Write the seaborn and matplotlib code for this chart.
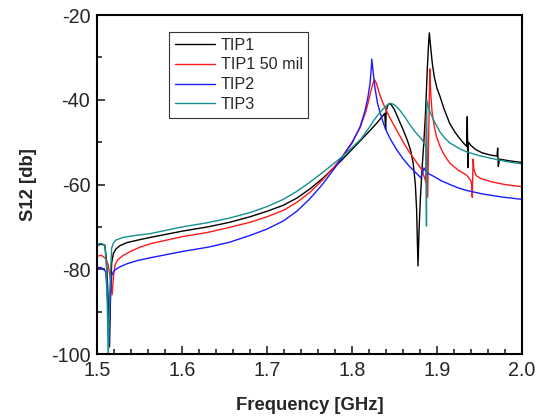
import numpy as np
import pandas as pd
import seaborn as sns
import matplotlib.pyplot as plt
from matplotlib.ticker import MultipleLocator

# S12 curves (frequency in GHz, S12 in dB)
tip1_f = [1.500, 1.505, 1.509, 1.511, 1.5135, 1.5145, 1.5155, 1.517, 1.519, 1.522,
          1.527, 1.535, 1.548, 1.562, 1.600, 1.630, 1.656, 1.680, 1.700, 1.719,
          1.735, 1.7506, 1.765, 1.780, 1.789, 1.800, 1.810, 1.820, 1.830, 1.8385,
          1.8395, 1.8402, 1.842, 1.8435, 1.846, 1.850, 1.855, 1.860, 1.865, 1.869,
          1.872, 1.8745, 1.876, 1.8776, 1.879, 1.8805, 1.8825, 1.8845, 1.8865, 1.8885,
          1.8900, 1.8910, 1.8925, 1.8945, 1.897, 1.900, 1.9035, 1.908, 1.915, 1.921,
          1.927, 1.9325, 1.9349, 1.9356, 1.9363, 1.9370, 1.940, 1.946, 1.953, 1.962,
          1.9706, 1.9714, 1.9722, 1.9735, 1.985, 2.000]
tip1_db = [-74.3, -74.1, -74.3, -78.0, -90.0, -98.3, -88.0, -78.5, -76.3, -75.2,
           -74.4, -73.7, -73.1, -72.5, -71.0, -70.0, -68.9, -67.6, -66.3, -64.9,
           -63.2, -61.0, -58.6, -55.8, -54.0, -51.7, -49.6, -47.5, -45.3, -43.2,
           -47.0, -42.5, -41.3, -40.9, -41.1, -42.4, -44.7, -47.0, -49.5, -52.0,
           -55.0, -60.0, -66.0, -79.2, -70.0, -63.0, -56.0, -50.0, -43.0, -33.0,
           -27.0, -24.2, -27.5, -31.5, -34.8, -37.3, -39.2, -42.0, -45.6, -47.6,
           -49.2, -50.5, -51.0, -44.0, -56.0, -50.0, -50.8, -51.8, -52.5, -53.0,
           -53.3, -51.4, -55.7, -54.0, -54.4, -54.8]

tip1_50_f = [1.500, 1.505, 1.510, 1.513, 1.516, 1.5176, 1.519, 1.521, 1.524, 1.530,
             1.540, 1.550, 1.562, 1.600, 1.630, 1.656, 1.680, 1.700, 1.719, 1.735,
             1.7506, 1.765, 1.780, 1.789, 1.800, 1.8094, 1.8165, 1.820, 1.8224, 1.8245,
             1.8265, 1.8285, 1.832, 1.836, 1.840, 1.846, 1.8514, 1.857, 1.862, 1.867,
             1.875, 1.882, 1.8855, 1.8868, 1.8873, 1.8890, 1.8915, 1.8925, 1.894, 1.8965,
             1.8995, 1.9035, 1.909, 1.9153, 1.925, 1.935, 1.9395, 1.9410, 1.9415, 1.9425,
             1.9435, 1.946, 1.952, 1.965, 1.980, 2.000]
tip1_50_db = [-76.9, -76.7, -77.5, -79.0, -83.0, -86.0, -82.0, -79.0, -77.8, -76.8,
              -75.7, -74.8, -74.0, -72.3, -71.3, -70.1, -68.9, -67.6, -66.1, -64.2,
              -61.8, -59.0, -55.6, -53.2, -50.0, -46.6, -42.6, -39.8, -37.8, -36.2,
              -35.3, -36.0, -38.4, -40.6, -42.4, -44.8, -46.8, -48.8, -50.6, -52.2,
              -54.5, -56.5, -58.5, -59.5, -43.5, -63.0, -32.7, -38.0, -42.5, -46.0,
              -48.8, -51.0, -53.2, -55.0, -56.6, -57.8, -59.0, -60.0, -63.0, -54.0,
              -56.5, -57.9, -58.6, -59.4, -60.0, -60.5]

tip2_f = [1.500, 1.505, 1.510, 1.5125, 1.5137, 1.515, 1.517, 1.519, 1.522, 1.527,
          1.535, 1.548, 1.562, 1.600, 1.630, 1.656, 1.680, 1.700, 1.719, 1.735,
          1.7506, 1.765, 1.780, 1.789, 1.800, 1.8094, 1.815, 1.8185, 1.8212, 1.8225,
          1.8232, 1.8245, 1.8271, 1.830, 1.8329, 1.837, 1.841, 1.846, 1.8526, 1.860,
          1.867, 1.874, 1.8790, 1.8808, 1.8830, 1.8847, 1.8865, 1.8886, 1.8965, 1.905,
          1.9153, 1.925, 1.935, 1.953, 1.975, 2.000]
tip2_db = [-79.6, -79.6, -80.5, -88.0, -98.0, -88.0, -81.5, -80.6, -80.0, -79.4,
           -78.7, -77.9, -77.3, -75.8, -74.8, -73.6, -72.0, -70.5, -68.6, -66.3,
           -63.3, -60.0, -56.0, -53.4, -50.2, -46.4, -42.8, -39.6, -36.1, -33.0,
           -30.4, -32.8, -37.4, -40.8, -43.0, -45.6, -47.6, -49.6, -51.8, -53.9,
           -55.6, -57.0, -58.0, -58.4, -57.2, -56.1, -56.8, -57.3, -58.1, -59.1,
           -60.0, -60.8, -61.4, -62.2, -62.9, -63.5]

tip3_f = [1.500, 1.505, 1.509, 1.511, 1.5130, 1.5148, 1.517, 1.519, 1.522, 1.530,
          1.545, 1.562, 1.600, 1.630, 1.656, 1.680, 1.700, 1.719, 1.735, 1.7506,
          1.765, 1.780, 1.789, 1.800, 1.8106, 1.820, 1.8251, 1.831, 1.8369, 1.841,
          1.8455, 1.850, 1.856, 1.862, 1.867, 1.874, 1.8816, 1.8859, 1.8870, 1.8876,
          1.8880, 1.890, 1.8918, 1.8965, 1.9035, 1.909, 1.9153, 1.927, 1.935, 1.950,
          1.9706, 1.985, 2.000]
tip3_db = [-74.1, -73.9, -74.3, -80.0, -101.0, -85.0, -75.0, -73.8, -73.1, -72.5,
           -72.0, -71.6, -70.0, -69.0, -67.9, -66.6, -65.2, -63.5, -61.6, -59.4,
           -57.2, -54.8, -53.3, -51.3, -49.2, -46.6, -45.0, -43.4, -42.1, -41.3,
           -40.8, -41.2, -42.4, -44.0, -45.6, -47.5, -49.2, -50.6, -51.0, -69.8,
           -40.0, -41.8, -42.9, -45.0, -47.6, -49.0, -50.2, -51.6, -52.3, -53.2,
           -54.1, -54.7, -55.1]

labels = ['TIP1', 'TIP1 50 mil', 'TIP2', 'TIP3']
colors = ['#000000', '#ff1a1a', '#1a1aff', '#159090']
freqs = [tip1_f, tip1_50_f, tip2_f, tip3_f]
vals = [tip1_db, tip1_50_db, tip2_db, tip3_db]

df = pd.concat([pd.DataFrame({'f': f, 'db': v, 'tip': lab})
                for f, v, lab in zip(freqs, vals, labels)], ignore_index=True)

sns.set_style('ticks')
plt.rcParams['font.family'] = ['Liberation Sans', 'DejaVu Sans']
plt.rcParams['axes.unicode_minus'] = False

fig = plt.figure(figsize=(5.37, 4.18), dpi=100)
ax = fig.add_axes([0.181, 0.153, 0.791, 0.811])

sns.lineplot(data=df, x='f', y='db', hue='tip', palette=colors, hue_order=labels,
             estimator=None, sort=False, linewidth=1.0, ax=ax)

ax.set_xlim(1.5, 2.0)
ax.set_ylim(-100, -20)
ax.xaxis.set_major_locator(MultipleLocator(0.1))
ax.xaxis.set_minor_locator(MultipleLocator(0.02))
ax.yaxis.set_major_locator(MultipleLocator(20))
ax.yaxis.set_minor_locator(MultipleLocator(10))
ax.set_xticklabels([f'{t:.1f}' for t in ax.get_xticks()])
ax.tick_params(which='both', direction='in', labelsize=14.2, width=1.2)
ax.tick_params(which='major', length=6, pad=5)
ax.tick_params(which='minor', length=3.5)
for s in ax.spines.values():
    s.set_linewidth(1.5)
    s.set_color('black')

ax.set_xlabel('Frequency [GHz]', fontsize=13.3, fontweight='bold', labelpad=12)
ax.set_ylabel('S12 [db]', fontsize=13.3, fontweight='bold', labelpad=10)

leg = ax.legend(loc='upper left', bbox_to_anchor=(0.169, 0.95), fontsize=11.6,
                frameon=True, fancybox=False, handlelength=2.5, borderpad=0.35,
                labelspacing=0.3, handletextpad=0.35, borderaxespad=0)
leg.get_frame().set_edgecolor('black')
leg.get_frame().set_linewidth(0.8)

fig.savefig('out.png', dpi=100)
